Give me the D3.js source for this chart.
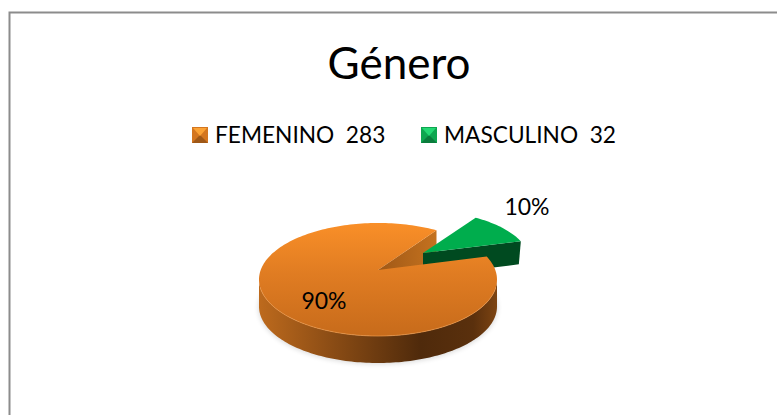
<!DOCTYPE html>
<html>
<head>
<meta charset="utf-8">
<script src="https://cdn.jsdelivr.net/npm/d3@7"></script>
<style>
html, body { margin: 0; padding: 0; background: #fff; }
text { font-family: Lato, "Open Sans", sans-serif; fill: #000; }
</style>
</head>
<body>
<div id="chart"></div>
<script>
var title = 'Género';
var categories = ['FEMENINO', 'MASCULINO'];
var counts = [283, 32];
var percentLabels = ['90%', '10%'];

var width = 777;
var height = 415;
var TILT_START = 66 * Math.PI / 180;

var svg = d3.select('#chart').append('svg')
    .attr('width', width)
    .attr('height', height)
    .style('display', 'block');

var defs = svg.append('defs');

function gradient(id, vertical, stops) {
    var g = defs.append('linearGradient').attr('id', id)
        .attr('x1', 0).attr('y1', 0)
        .attr('x2', vertical ? 0 : 1).attr('y2', vertical ? 1 : 0);
    stops.forEach(function (s) {
        g.append('stop').attr('offset', s[0]).attr('stop-color', s[1]);
    });
}
gradient('topFace', true, [[0, '#f98f28'], [0.45, '#e07c22'], [1, '#c76b1b']]);
gradient('sideWall', false, [[0, '#bd6a1d'], [0.3, '#8c4d15'], [0.68, '#4f2a0b'], [0.9, '#5a300d'], [1, '#7d4412']]);
gradient('cutWall', false, [[0, '#a05816'], [1, '#c4721f']]);
defs.append('filter').attr('id', 'soft')
    .attr('x', '-10%').attr('y', '-10%').attr('width', '120%').attr('height', '120%')
    .append('feGaussianBlur').attr('stdDeviation', 2.5);

// chart frame, open on the right
svg.append('path')
    .attr('d', 'M9.5,415V12.5H777')
    .attr('fill', 'none')
    .attr('stroke', '#8c8c8c')
    .attr('stroke-width', 2);

svg.append('text')
    .attr('x', 399).attr('y', 79)
    .attr('text-anchor', 'middle')
    .attr('font-size', 44)
    .text(title);

// legend
var legendX = d3.scaleOrdinal().domain(categories).range([192, 421]);
var legendBase = d3.scaleOrdinal().domain(categories).range(['#d4761f', '#0ea650']);
var legendTip = d3.scaleOrdinal().domain(categories).range(['#fba235', '#24d873']);
var legend = svg.selectAll('.legend').data(categories).enter().append('g')
    .attr('class', 'legend')
    .attr('transform', function (d) { return 'translate(' + legendX(d) + ',127)'; });
legend.append('rect')
    .attr('width', 16).attr('height', 16)
    .attr('fill', function (d) { return legendBase(d); });
legend.append('path')
    .attr('d', 'M0,16L8,8L16,16Z')
    .attr('fill', '#000')
    .attr('opacity', 0.25);
legend.append('path')
    .attr('d', 'M1,1H15L8,9Z')
    .attr('fill', function (d) { return legendTip(d); });
legend.append('text')
    .attr('x', 23).attr('y', 16)
    .attr('font-size', 22.7)
    .style('white-space', 'pre')
    .text(function (d, i) { return d + '  ' + counts[i]; });

// pie angles come from the counts, then get squashed into the tilted view
var pie = d3.pie().sort(null).startAngle(TILT_START).endAngle(TILT_START + 2 * Math.PI);
var slices = pie(counts);
var orange = slices[0];
var green = slices[1];

var rx = d3.scaleLinear().domain([0, 1]).range([0, 119]);
var ry = d3.scaleLinear().domain([0, 1]).range([0, 56.5]);

function rimPoints(cx, cy, scale, a0, a1, dy) {
    var n = Math.max(2, Math.ceil(Math.abs(a1 - a0) * 40));
    return d3.range(n + 1).map(function (i) {
        var a = a0 + (a1 - a0) * i / n;
        return [cx + rx(scale) * Math.sin(a), cy - ry(scale) * Math.cos(a) + (dy || 0)];
    });
}

var line = d3.line();
var depth = 27;
var cx = 378, cy = 279.5, apex = [378, 270];
var gcx = 423, gcy = 262, gapex = [423, 253], gscale = 0.9, gdepth = 23;

// soft shadow under the pie
svg.append('path')
    .attr('d', line(rimPoints(cx, cy + 1, 1.005, 0, 2 * Math.PI, depth)) + 'Z')
    .attr('fill', '#000')
    .attr('opacity', 0.14)
    .attr('filter', 'url(#soft)');

// back cut of the large slice
var cutRim = rimPoints(cx, cy, 1, orange.endAngle, orange.endAngle, 0)[0];
svg.append('path')
    .attr('d', line([apex, cutRim, [cutRim[0], cutRim[1] + depth], [apex[0], apex[1] + depth]]) + 'Z')
    .attr('fill', 'url(#cutWall)');

// exploded slice
var gEnd = rimPoints(gcx, gcy, gscale, green.endAngle, green.endAngle, 0)[0];
svg.append('path')
    .attr('d', line([gapex, gEnd, [gEnd[0] - 2, gEnd[1] + gdepth], [gapex[0], gapex[1] + gdepth]]) + 'Z')
    .attr('fill', '#004a20');
svg.append('path')
    .attr('d', line([gapex].concat(rimPoints(gcx, gcy, gscale, green.startAngle, green.endAngle))) + 'Z')
    .attr('fill', '#00ad4d');

// large slice: wall then top
var wall = rimPoints(cx, cy, 1, Math.PI / 2, 3 * Math.PI / 2, 0);
var wallLow = rimPoints(cx, cy, 1, 3 * Math.PI / 2, Math.PI / 2, depth);
svg.append('path')
    .attr('d', line(wall.concat(wallLow)) + 'Z')
    .attr('fill', 'url(#sideWall)');
svg.append('path')
    .attr('d', line([apex].concat(rimPoints(cx, cy, 1, orange.startAngle, orange.endAngle))) + 'Z')
    .attr('fill', 'url(#topFace)');
svg.append('path')
    .attr('d', line(rimPoints(cx, cy, 1, Math.PI * 0.55, Math.PI * 1.45)))
    .attr('fill', 'none')
    .attr('stroke', '#ef9a4a')
    .attr('stroke-width', 1)
    .attr('opacity', 0.7);

// percent labels
var labelX = d3.scaleOrdinal().domain(categories).range([324, 527]);
var labelY = d3.scaleOrdinal().domain(categories).range([309, 215]);
svg.selectAll('.pct').data(categories).enter().append('text')
    .attr('class', 'pct')
    .attr('x', function (d) { return labelX(d); })
    .attr('y', function (d) { return labelY(d); })
    .attr('text-anchor', 'middle')
    .attr('font-size', 23)
    .text(function (d, i) { return percentLabels[i]; });
</script>
</body>
</html>
